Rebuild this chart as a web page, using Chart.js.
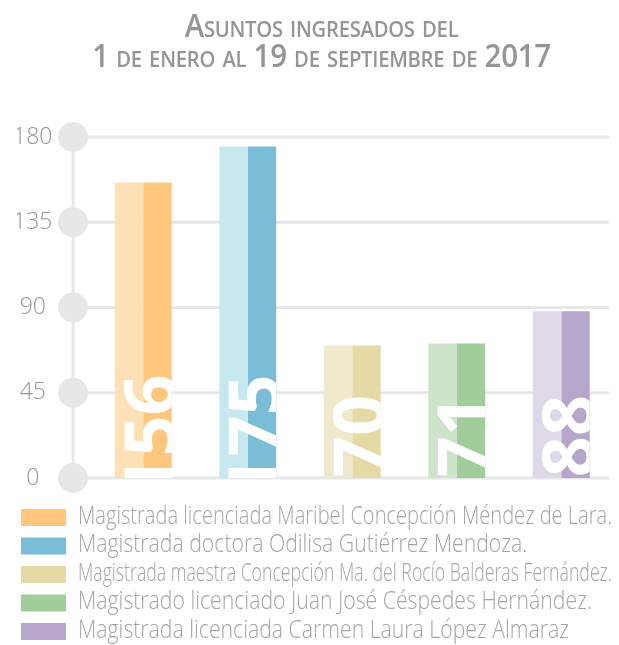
<!DOCTYPE html>
<html lang="es">
<head>
<meta charset="utf-8">
<title>Asuntos ingresados 2017</title>
<script src="https://cdn.jsdelivr.net/npm/chart.js@4.4.1/dist/chart.umd.min.js"></script>
<style>
  html, body { margin: 0; padding: 0; background: #fff; overflow: hidden; }
  body { width: 619px; height: 645px; position: relative; }
  #titulo {
    position: absolute; top: 10px; left: 12px; width: 619px;
    text-align: center; color: #939598;
    font: 600 32px/30px "Open Sans", sans-serif;
    font-variant: small-caps; letter-spacing: -0.3px;
    transform: scaleX(0.92); transform-origin: 310px 0;
    z-index: 2;
  }
  #caja { position: absolute; left: 0; top: 0; width: 619px; height: 645px; }
</style>
</head>
<body>
<div id="titulo">Asuntos ingresados del<br>1 de enero al 19 de septiembre de 2017</div>
<div id="caja"><canvas id="grafica"></canvas></div>
<script>
// datos
const magistrados = [
  "Magistrada licenciada Maribel Concepción Méndez de Lara.",
  "Magistrada doctora Odilisa Gutiérrez Mendoza.",
  "Magistrada maestra Concepción Ma. del Rocío Balderas Fernández.",
  "Magistrado licenciado Juan José Céspedes Hernández.",
  "Magistrada licenciada Carmen Laura López Almaraz"
];
const asuntos = [156, 175, 70, 71, 88];
const marcasY = [0, 45, 90, 135, 180];

// colores (mitad clara / mitad oscura de cada barra)
const coloresClaros = ["#fde0b6", "#c8e8ef", "#f0e9ce", "#cde4ca", "#dfd8e9"];
const coloresOscuros = ["#ffc77d", "#7bbdd7", "#e5daa6", "#a0cd9a", "#b6a6cb"];

const GRIS = "#e6e7e8";

// lineas guia con circulos a la izquierda
const ejeCirculos = {
  id: "ejeCirculos",
  beforeDatasetsDraw(chart) {
    const y = chart.scales.y;
    const ctx = chart.ctx;
    const x0 = 73, x1 = 609;
    ctx.save();
    ctx.strokeStyle = GRIS;
    ctx.lineWidth = 3;
    ctx.beginPath();
    ctx.moveTo(x0, y.getPixelForValue(marcasY[0]));
    ctx.lineTo(x0, y.getPixelForValue(marcasY[marcasY.length - 1]));
    ctx.stroke();
    marcasY.forEach((v) => {
      const py = y.getPixelForValue(v);
      ctx.beginPath();
      ctx.moveTo(x0, py);
      ctx.lineTo(x1, py);
      ctx.stroke();
      ctx.fillStyle = GRIS;
      ctx.beginPath();
      ctx.arc(x0, py, 15, 0, Math.PI * 2);
      ctx.fill();
    });
    ctx.restore();
  }
};

// numero grande en blanco, girado y recortado dentro de la barra
const numerosBarra = {
  id: "numerosBarra",
  afterDatasetsDraw(chart) {
    const ctx = chart.ctx;
    const claras = chart.getDatasetMeta(0).data;
    const oscuras = chart.getDatasetMeta(1).data;
    claras.forEach((bar, i) => {
      const izq = bar.x - bar.width / 2;
      const der = oscuras[i].x + oscuras[i].width / 2;
      const arriba = bar.y;
      const abajo = bar.base;
      ctx.save();
      ctx.beginPath();
      ctx.rect(izq, arriba, der - izq, abajo - arriba);
      ctx.clip();
      ctx.translate(der + 4, abajo - 42);
      ctx.rotate(-Math.PI / 2);
      ctx.fillStyle = "#ffffff";
      ctx.font = "bold 72px 'Open Sans', sans-serif";
      ctx.textAlign = "center";
      ctx.textBaseline = "alphabetic";
      ctx.fillText(String(asuntos[i]), 0, 0);
      ctx.restore();
    });
  }
};

// leyenda condensada (una fila por magistrado)
const leyenda = {
  id: "leyenda",
  afterDraw(chart) {
    const ctx = chart.ctx;
    const x0 = 21, y0 = 517.5, paso = 28.5;
    const anchoMax = 534;
    ctx.save();
    ctx.font = "300 25px 'Open Sans', sans-serif";
    ctx.textAlign = "left";
    ctx.textBaseline = "middle";
    const k = 514 / ctx.measureText(magistrados[3]).width;
    magistrados.forEach((m, i) => {
      const yc = y0 + paso * i;
      ctx.fillStyle = coloresOscuros[i];
      ctx.fillRect(x0, yc - 8.5, 45, 17);
      ctx.fillStyle = "#a3a5a8";
      const w = Math.min(ctx.measureText(m).width * k, anchoMax);
      ctx.fillText(m, 78, yc - 1, w);
    });
    ctx.restore();
  }
};

new Chart(document.getElementById("grafica"), {
  type: "bar",
  data: {
    labels: magistrados,
    datasets: [
      {
        label: "claro",
        data: asuntos,
        backgroundColor: coloresClaros,
        categoryPercentage: 0.545,
        barPercentage: 1.0
      },
      {
        label: "oscuro",
        data: asuntos,
        backgroundColor: coloresOscuros,
        categoryPercentage: 0.545,
        barPercentage: 1.0
      }
    ]
  },
  options: {
    responsive: true,
    maintainAspectRatio: false,
    animation: false,
    layout: { padding: { top: 137, left: 17, right: 5.5, bottom: 167 } },
    scales: {
      x: { display: false },
      y: {
        min: 0,
        max: 180,
        afterBuildTicks: (scale) => { scale.ticks = marcasY.map((v) => ({ value: v })); },
        grid: { display: false, drawTicks: false },
        border: { display: false },
        ticks: {
          crossAlign: "center",
          padding: 38.5,
          color: "#939598",
          font: { family: "'Open Sans', sans-serif", size: 23, weight: 300 }
        },
        afterFit: (scale) => { scale.width = 74; }
      }
    },
    plugins: {
      title: { display: false },
      tooltip: { enabled: false },
      legend: { display: false }
    }
  },
  plugins: [ejeCirculos, numerosBarra, leyenda]
});
</script>
</body>
</html>
